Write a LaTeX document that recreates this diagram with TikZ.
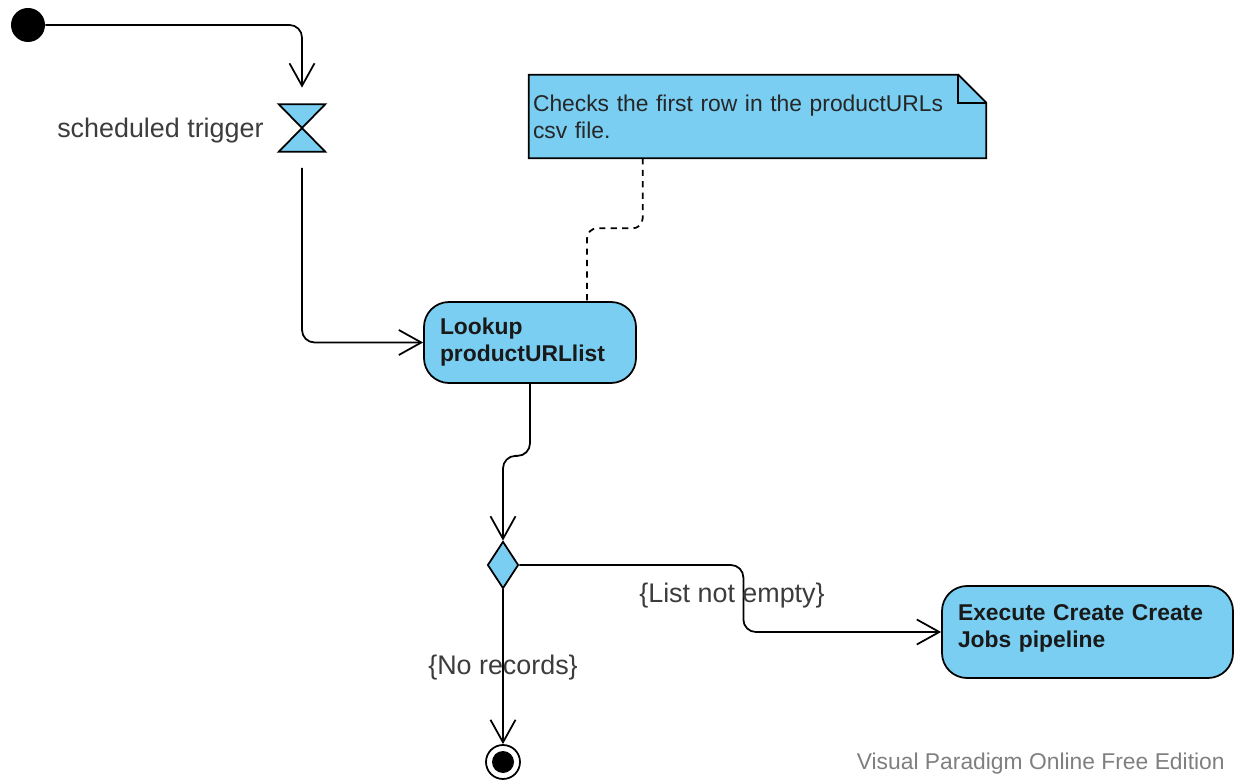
\documentclass[tikz,border=0pt]{standalone}
\usepackage{fontspec}
\setmainfont{Liberation Sans}
\usepackage{tikz}
\usetikzlibrary{shapes.geometric, arrows.meta, positioning, backgrounds}
\definecolor{vpblue}{HTML}{79CEF2}
\definecolor{vptext}{HTML}{3C3C3C}
\definecolor{vpmark}{HTML}{7F7F7F}
\tikzset{
  startnode/.style={circle, fill=black, minimum size=0.68cm, inner sep=0pt},
  endnode/.style={circle, draw=black, line width=1pt, fill=white, minimum size=0.68cm, inner sep=0pt,
    path picture={\fill[black] (path picture bounding box.center) circle (0.22cm);}},
  timenode/.style={inner sep=0pt, minimum width=0.92cm, minimum height=0.94cm},
  hourglass/.style={draw=black, fill=vpblue, line width=1pt, line join=miter},
  actnode/.style={draw=black, fill=vpblue, line width=1pt, rounded corners=0.5cm, inner xsep=0.32cm, align=left, font=\fontsize{13}{15.4}\selectfont\bfseries, text=black!90},
  decnode/.style={diamond, draw=black, fill=vpblue, line width=1pt, inner sep=0pt, minimum width=0.62cm, minimum height=0.94cm},
  notenode/.style={inner xsep=0.08cm, inner ysep=0pt, minimum height=1.66cm, text width=8.98cm, align=left, font=\fontsize{13}{15.4}\selectfont, text=black!85},
  notefill/.style={draw=black, fill=vpblue, line width=1pt},
  flow/.style={-{Straight Barb[length=4.5mm, width=5mm]}, line width=1pt, draw=black, rounded corners=0.25cm},
  notelink/.style={line width=1pt, draw=black, dash pattern=on 3.5pt off 3pt, rounded corners=0.2cm},
  lbl/.style={font=\fontsize{15.3}{18}\selectfont, text=vptext, inner sep=1pt},
  marktext/.style={font=\fontsize{13}{15}\selectfont, text=vpmark, inner sep=0pt}
}

\begin{document}
\begin{tikzpicture}
  \useasboundingbox (0,0) rectangle (24.68,15.64);

  % initial node and the timer that starts the run
  \node[startnode] at (0.56,15.14) (start) {};
  \node[timenode] at (6.04,13.08) (trig) {};
  \filldraw[hourglass] (trig.north west) -- (trig.north east)
    -- (trig.south west) -- (trig.south east) -- cycle;
  \node[lbl, left=0.26cm of trig, yshift=-0.06cm] (triglbl) {scheduled trigger};

  % actions
  \node[actnode, text width=3.6cm, minimum height=1.62cm] at (10.60,8.79) (lookup)
    {Lookup\\productURLlist};
  \node[actnode, text width=5.18cm, minimum height=1.84cm] at (21.75,3.00) (exec)
    {Execute Create Create\\Jobs pipeline\\[-0.32cm]\mbox{}};

  % comment note with folded corner
  \node[notenode] at (15.15,13.31) (note)
    {Checks the first row in the productURLs\\csv file.};
  \begin{pgfonlayer}{background}
    \filldraw[notefill] (note.south west) -- (note.north west)
      -- ([xshift=-0.56cm]note.north east) -- ([yshift=-0.56cm]note.north east)
      -- (note.south east) -- cycle;
  \end{pgfonlayer}
  \draw[line width=1pt] ([xshift=-0.56cm]note.north east) |- ([yshift=-0.56cm]note.north east);

  % decision and final node
  \node[decnode] at (10.06,4.34) (dec) {};
  \node[endnode] at (10.06,0.40) (final) {};

  % flows
  \draw[flow, shorten >=0.33cm] (start.east) -| (trig.north);
  \draw[flow, shorten <=0.32cm] (trig.south) |- (lookup.west);
  \draw[flow] (lookup.south) -- ++(0,-1.44) -| (dec.north);
  \draw[flow] (dec.east) -- ++(4.48,0) |- (exec.west);
  \node[lbl] at (14.64,3.72) (notempty) {\{List not empty\}};
  \draw[flow] (dec.south) -- (final.north);
  \node[lbl] at (10.06,2.28) (norec) {\{No records\}};

  \draw[notelink] ([xshift=2.28cm]note.south west) -- ++(0,-1.4)
    -| ([xshift=1.14cm]lookup.north);

  \node[marktext, anchor=east] at (24.50,0.36) (vpmark)
    {Visual Paradigm Online Free Edition};
\end{tikzpicture}
\end{document}
